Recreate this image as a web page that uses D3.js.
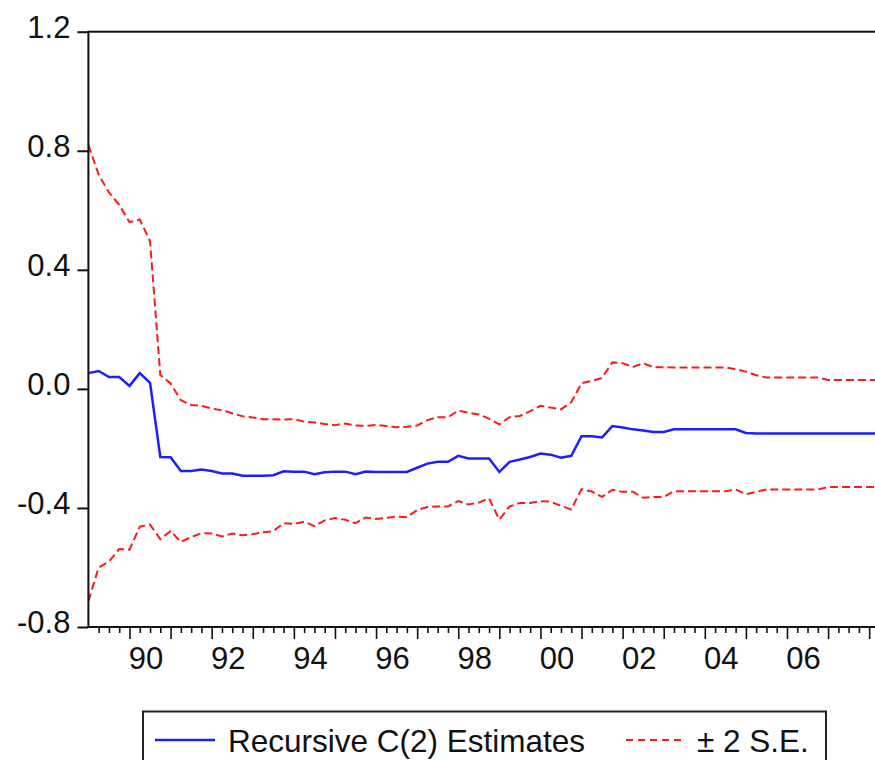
<!DOCTYPE html>
<html>
<head>
<meta charset="utf-8">
<script src="https://cdn.jsdelivr.net/npm/d3@7"></script>
<style>
    body { margin: 0; background: #fff; }
    svg { display: block; font-family: "Liberation Sans", Arial, sans-serif; }
    .axis text { font-size: 31px; fill: #111; }
</style>
</head>
<body>
<svg id="chart"></svg>
<script>
// quarterly observations starting 1989Q1
var startYear = 1989;

// recursive C(2) estimates
var estimates = [
    0.053, 0.060, 0.040, 0.040, 0.010, 0.053, 0.020, -0.229,
    -0.230, -0.276, -0.276, -0.271, -0.276, -0.284, -0.284, -0.292,
    -0.292, -0.292, -0.290, -0.277, -0.278, -0.278, -0.287, -0.280,
    -0.278, -0.278, -0.287, -0.278, -0.279, -0.279, -0.279, -0.279,
    -0.265, -0.251, -0.245, -0.245, -0.225, -0.234, -0.234, -0.234,
    -0.279, -0.245, -0.237, -0.229, -0.217, -0.221, -0.231, -0.225,
    -0.159, -0.159, -0.163, -0.125, -0.130, -0.136, -0.140, -0.145,
    -0.145, -0.136, -0.136, -0.136, -0.136, -0.136, -0.136, -0.136,
    -0.148, -0.150, -0.150, -0.150, -0.150, -0.150, -0.150, -0.150,
    -0.150, -0.150, -0.150, -0.150, -0.150, -0.150
];

// standard errors (half the distance between the estimate and a band)
var stdErrors = [
    0.383, 0.330, 0.310, 0.289, 0.275, 0.258, 0.238, 0.138,
    0.124, 0.119, 0.111, 0.107, 0.105, 0.106, 0.101, 0.100,
    0.098, 0.095, 0.094, 0.087, 0.088, 0.084, 0.087, 0.081,
    0.078, 0.081, 0.082, 0.077, 0.079, 0.077, 0.075, 0.076,
    0.071, 0.073, 0.075, 0.075, 0.076, 0.077, 0.074, 0.067,
    0.080, 0.075, 0.073, 0.077, 0.080, 0.079, 0.081, 0.090,
    0.089, 0.093, 0.100, 0.107, 0.108, 0.105, 0.113, 0.109,
    0.109, 0.104, 0.104, 0.104, 0.104, 0.104, 0.104, 0.101,
    0.103, 0.098, 0.094, 0.094, 0.094, 0.094, 0.094, 0.094,
    0.090, 0.090, 0.090, 0.090, 0.090, 0.090
];

var yTicks = [-0.8, -0.4, 0.0, 0.4, 0.8, 1.2];
var yearLabels = [1990, 1992, 1994, 1996, 1998, 2000, 2002, 2004, 2006];

function init() {
    var w = 875;
    var h = 760;

    var left = 88.4;
    var top = 31.7;
    var bottom = 627;
    var right = 900;

    var svg = d3.select("#chart")
        .attr("width", w)
        .attr("height", h);

    var dataset = estimates.map(function (d, i) {
        return {
            t: startYear + i / 4,
            est: d,
            up: d + 2 * stdErrors[i],
            lo: d - 2 * stdErrors[i]
        };
    });

    var xScale = d3.scaleLinear()
        .domain([1989, 2008.75])
        .range([left, right]);

    var yScale = d3.scaleLinear()
        .domain([-0.8, 1.2])
        .range([bottom, top]);

    // quarter ticks, year ticks and year labels
    var quarters = d3.range(1989.25, 2008.75, 0.25).filter(function (d) { return d % 1 !== 0; });
    var years = d3.range(1990, 2009);

    svg.append("g")
        .attr("class", "axis")
        .attr("transform", "translate(0," + bottom + ")")
        .call(d3.axisBottom(xScale).tickValues(quarters).tickSize(6).tickFormat(""))
        .call(function (g) { g.select(".domain").remove(); })
        .selectAll("line").attr("stroke", "#111").attr("stroke-width", 1.6);

    svg.append("g")
        .attr("class", "axis")
        .attr("transform", "translate(0," + bottom + ")")
        .call(d3.axisBottom(xScale).tickValues(years).tickSize(12).tickFormat(""))
        .call(function (g) { g.select(".domain").remove(); })
        .selectAll("line").attr("stroke", "#111").attr("stroke-width", 1.6);

    svg.append("g")
        .attr("class", "axis")
        .attr("transform", "translate(0," + bottom + ")")
        .call(d3.axisBottom(xScale)
            .tickValues(yearLabels.map(function (d) { return d + 0.39; }))
            .tickSize(0)
            .tickPadding(20)
            .tickFormat(function (d) { return d3.format("02")(Math.floor(d) % 100); }))
        .call(function (g) { g.select(".domain").remove(); });

    // y axis
    svg.append("g")
        .attr("class", "axis")
        .attr("transform", "translate(" + left + ",0)")
        .call(d3.axisLeft(yScale)
            .tickValues(yTicks)
            .tickSize(11)
            .tickPadding(7)
            .tickFormat(function (d) { return d.toFixed(1); }))
        .call(function (g) { g.select(".domain").remove(); })
        .call(function (g) {
            g.selectAll("line").attr("stroke", "#111").attr("stroke-width", 2);
            g.selectAll("text").attr("dy", "0.18em");
        });

    // lines
    svg.append("clipPath").attr("id", "plotclip")
        .append("rect")
        .attr("x", left).attr("y", top)
        .attr("width", right - left).attr("height", bottom - top);

    function line(key) {
        return d3.line()
            .x(function (d) { return xScale(d.t); })
            .y(function (d) { return yScale(d[key]); });
    }

    var plot = svg.append("g").attr("clip-path", "url(#plotclip)");

    plot.append("path")
        .datum(dataset)
        .attr("d", line("up"))
        .attr("fill", "none")
        .attr("stroke", "#ff1a1a")
        .attr("stroke-width", 2)
        .attr("stroke-dasharray", "8,4");

    plot.append("path")
        .datum(dataset)
        .attr("d", line("lo"))
        .attr("fill", "none")
        .attr("stroke", "#ff1a1a")
        .attr("stroke-width", 2)
        .attr("stroke-dasharray", "8,4");

    plot.append("path")
        .datum(dataset)
        .attr("d", line("est"))
        .attr("fill", "none")
        .attr("stroke", "#1e1eff")
        .attr("stroke-width", 2.5);

    // frame
    svg.append("rect")
        .attr("x", left)
        .attr("y", top)
        .attr("width", right - left)
        .attr("height", bottom - top)
        .attr("fill", "none")
        .attr("stroke", "#111")
        .attr("stroke-width", 2);

    // legend
    var legend = svg.append("g");
    legend.append("rect")
        .attr("x", 143)
        .attr("y", 711.5)
        .attr("width", 683)
        .attr("height", 100)
        .attr("fill", "none")
        .attr("stroke", "#222")
        .attr("stroke-width", 2);

    legend.append("line")
        .attr("x1", 155).attr("x2", 215)
        .attr("y1", 740).attr("y2", 740)
        .attr("stroke", "#1e1eff")
        .attr("stroke-width", 2.5);

    legend.append("text")
        .attr("x", 228)
        .attr("y", 752)
        .style("font-size", "31.5px")
        .attr("fill", "#111")
        .text("Recursive C(2) Estimates");

    legend.append("line")
        .attr("x1", 626).attr("x2", 686)
        .attr("y1", 740).attr("y2", 740)
        .attr("stroke", "#ff1a1a")
        .attr("stroke-width", 2)
        .attr("stroke-dasharray", "7,5");

    legend.append("text")
        .attr("x", 697)
        .attr("y", 752)
        .style("font-size", "31.5px")
        .attr("fill", "#111")
        .text("± 2 S.E.");
}
window.onload = init;
</script>
</body>
</html>
